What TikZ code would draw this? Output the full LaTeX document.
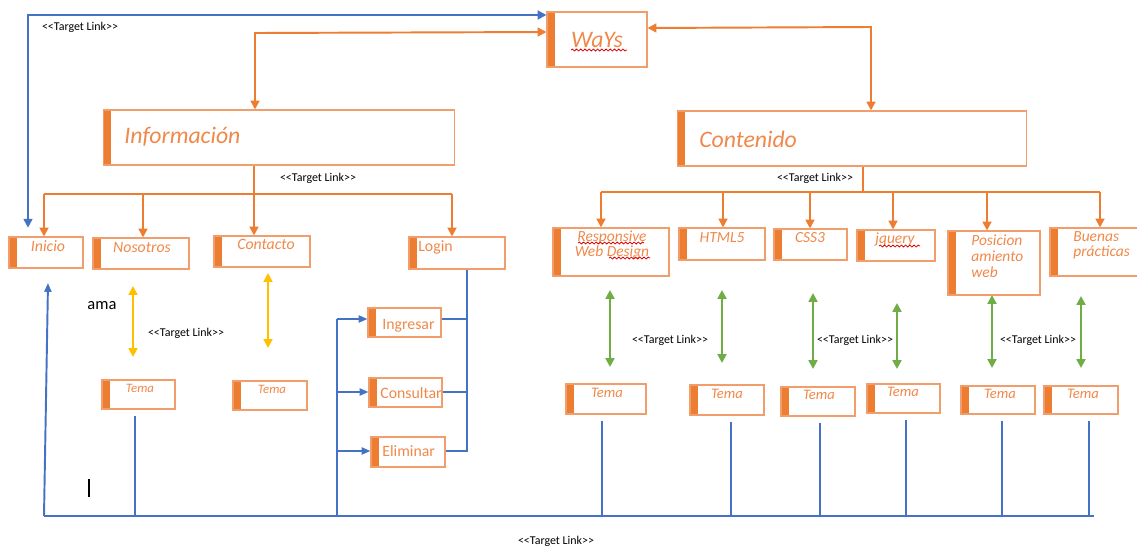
\documentclass[tikz,border=0pt]{standalone}
\usepackage{fontspec}
\setmainfont{Carlito}
\usetikzlibrary{arrows.meta, decorations.pathmorphing}

\definecolor{barorange}{RGB}{237,125,49}
\definecolor{boxline}{RGB}{242,158,108}
\definecolor{wordorange}{RGB}{240,136,74}
\definecolor{linkblue}{RGB}{68,114,196}
\definecolor{linkgreen}{RGB}{112,173,71}
\definecolor{linkyellow}{RGB}{255,192,0}

\newcommand{\targetlink}{<\kern0pt<Target Link>\kern0pt>}

\tikzset{
  box/.style 2 args={draw=boxline, line width=0.6pt, minimum width=#1,
    minimum height=#2, inner sep=0pt,
    path picture={\fill[barorange] (path picture bounding box.north west)
      rectangle ([xshift=0.16cm]path picture bounding box.south west);}},
  title/.style={text=wordorange, font=\fontsize{13.5}{16}\selectfont\itshape, inner sep=0pt},
  item/.style={text=wordorange, font=\fontsize{9}{9}\selectfont\itshape, inner sep=0pt},
  subitem/.style={text=wordorange, font=\fontsize{8.8}{8.6}\selectfont\itshape, inner sep=0pt},
  action/.style={text=wordorange, font=\fontsize{9}{10}\selectfont, inner sep=0pt, anchor=west},
  temasmall/.style={text=wordorange, font=\fontsize{7.3}{8}\selectfont\itshape, inner sep=0pt},
  temabig/.style={text=wordorange, font=\fontsize{8.3}{9}\selectfont\itshape, inner sep=0pt},
  tlink/.style={font=\fontsize{6.8}{8}\selectfont, inner sep=0pt},
  oline/.style={barorange, line width=1.1pt},
  oarrow/.style={oline, -{Triangle[length=5pt,width=5pt]}},
  oboth/.style={oline, {Triangle[length=5pt,width=5pt]}-{Triangle[length=5pt,width=5pt]}},
  bline/.style={linkblue, line width=1.1pt},
  barrow/.style={bline, -{Triangle[length=5pt,width=4pt]}},
  bboth/.style={bline, {Triangle[length=5pt,width=5pt]}-{Triangle[length=5pt,width=5pt]}},
  gboth/.style={linkgreen, line width=1.3pt, {Triangle[length=5pt,width=5pt]}-{Triangle[length=5pt,width=5pt]}},
  yboth/.style={linkyellow, line width=1.1pt, {Triangle[length=5pt,width=5pt]}-{Triangle[length=5pt,width=5pt]}},
  squiggle/.style={red!85!black, line width=0.45pt, decorate,
    decoration={snake, amplitude=0.55pt, segment length=2.4pt}}
}

\begin{document}
\begin{tikzpicture}[x=0.02cm, y=-0.02cm]
  \useasboundingbox (0,0) rectangle (1137,548);

  % top level
  \node[box={2cm}{1.1cm}, title] (ways) at (597,39.5) {WaYs};
  \node[box={7.04cm}{1.1cm}] (info) at (279,137.5) {};
  \node[box={7cm}{1.1cm}] (cont) at (852,138.5) {};
  \node[title, anchor=west] (info-t) at (124,137) {Información};
  \node[title, anchor=west] (cont-t) at (699,139) {Contenido};

  % Informacion branch
  \node[box={1.48cm}{0.62cm}] (inicio) at (46,252.5) {};
  \node[box={1.92cm}{0.62cm}] (nosotros) at (141,253.5) {};
  \node[box={1.92cm}{0.62cm}] (contacto) at (262,251.5) {};
  \node[box={1.92cm}{0.64cm}] (login) at (457,253) {};
  \node[item] (inicio-t) at (48,246) {Inicio};
  \node[item] (nosotros-t) at (142,247) {Nosotros};
  \node[item] (contacto-t) at (266,244) {Contacto};
  \node[action] (login-t) at (418,247) {Login};

  \node[box={1.46cm}{0.58cm}] (ingresar) at (404.5,322.5) {};
  \node[box={1.46cm}{0.58cm}] (consultar) at (405.5,392.5) {};
  \node[box={1.48cm}{0.6cm}] (eliminar) at (408,452) {};
  \node[action] (ingresar-t) at (382,326) {Ingresar};
  \node[action] (consultar-t) at (380,393) {Consultar};
  \node[action] (eliminar-t) at (382,451) {Eliminar};

  \node[box={1.46cm}{0.58cm}] (temaN) at (138.5,394.5) {};
  \node[box={1.48cm}{0.58cm}] (temaC) at (270,395.5) {};
  \node[temasmall] (temaN-t) at (140,388) {Tema};
  \node[temasmall] (temaC-t) at (272,389) {Tema};

  % Contenido branch
  \node[box={2.32cm}{0.96cm}] (rwd) at (611,252) {};
  \node[box={1.72cm}{0.64cm}] (html) at (722,244) {};
  \node[box={1.46cm}{0.62cm}] (css) at (810.5,244.5) {};
  \node[box={1.56cm}{0.62cm}] (jq) at (896,245.5) {};
  \node[box={1.84cm}{1.28cm}] (pos) at (994,263) {};
  \node[box={1.8cm}{0.96cm}] (buenas) at (1095,252) {};
  \node[subitem, align=center] (rwd-t) at (612,245) {Responsive\\Web Design};
  \node[subitem] (html-t) at (722,238) {HTML5};
  \node[subitem] (css-t) at (810,238) {CSS3};
  \node[subitem] (jq-t) at (895,240) {jquery};
  \node[subitem, align=left, anchor=west, font=\fontsize{8.8}{9.1}\selectfont\itshape]
    (pos-t) at (971,256) {Posicion\\amiento\\web};
  \node[subitem, align=left, anchor=west] (buenas-t) at (1073,245.5) {Buenas\\prácticas};

  \node[box={1.6cm}{0.6cm}] (temaR1) at (606,399) {};
  \node[box={1.48cm}{0.6cm}] (temaR2) at (727,400) {};
  \node[box={1.48cm}{0.58cm}] (temaR3) at (818,401.5) {};
  \node[box={1.46cm}{0.58cm}] (temaR4) at (903.5,398.5) {};
  \node[box={1.48cm}{0.56cm}] (temaR5) at (998,400) {};
  \node[box={1.48cm}{0.56cm}] (temaR6) at (1081,400) {};
  \node[temabig] (temaR1-t) at (607,393) {Tema};
  \node[temabig] (temaR2-t) at (727,394) {Tema};
  \node[temabig] (temaR3-t) at (819,395) {Tema};
  \node[temabig] (temaR4-t) at (903,392) {Tema};
  \node[temabig] (temaR5-t) at (1000,394) {Tema};
  \node[temabig] (temaR6-t) at (1083,394) {Tema};

  % orange links
  \draw[oboth] (ways.west |- 0,32) -- (255,33) -- (255,0 |- info.north);
  \draw[oboth] (ways.east |- 0,28) -- (871,27) -- (871,0 |- cont.north);
  \draw[oline] (254,0 |- info.south) -- (254,194);
  \draw[oline] (44,194) -- (452,194);
  \foreach \x/\n in {44/inicio, 143/nosotros, 254/contacto, 452/login}
    \draw[oarrow] (\x,194) -- (\x,0 |- \n.north);
  \draw[oline] (863,0 |- cont.south) -- (863,192);
  \draw[oline] (601,192) -- (1100,192);
  \foreach \x/\n in {601/rwd, 723/html, 810/css, 893/jq, 987/pos, 1100/buenas}
    \draw[oarrow] (\x,192) -- (\x,0 |- \n.north);

  % blue links
  \draw[bboth, shorten <=5pt] (28,0 |- inicio.north) -- (28,15) -- (ways.west |- 0,15);
  \draw[bline] (44,516) -- (1094,516);
  \draw[barrow] (44,516) -- (48,283);
  \foreach \x/\n in {135/temaN, 602/temaR1, 731/temaR2, 820/temaR3, 906/temaR4, 1002/temaR5, 1089/temaR6}
    \draw[bline] (\x,0 |- \n.south) ++(0,6) -- (\x,516);
  \draw[bline] (467,0 |- login.south) -- (467,452);
  \foreach \n/\y in {ingresar/319, consultar/392, eliminar/451}
    \draw[bline] (\n.east |- 0,\y) -- (467,\y);
  \draw[bline] (337,319) -- (337,516);
  \foreach \n/\y in {ingresar/319, consultar/392, eliminar/451}
    \draw[barrow] (337,\y) -- (\n.west |- 0,\y);

  % green and yellow links
  \foreach \x/\a/\b in {610/290/367, 722/290/363, 813/293/369, 897/303/369, 992/295/368, 1081/296/368}
    \draw[gboth] (\x,\a) -- (\x,\b);
  \draw[yboth] (133,286) -- (133,357);
  \draw[yboth] (268,273) -- (268,348);

  % target link labels
  \node[tlink] (tl-top) at (80,27) {\targetlink};
  \node[tlink] (tl-info) at (318,178) {\targetlink};
  \node[tlink] (tl-cont) at (815,178) {\targetlink};
  \node[tlink] (tl-tema) at (186,333) {\targetlink};
  \node[tlink] (tl-g1) at (670,340) {\targetlink};
  \node[tlink] (tl-g2) at (855,340) {\targetlink};
  \node[tlink] (tl-g3) at (1038,340) {\targetlink};
  \node[tlink] (tl-bottom) at (556,541) {\targetlink};

  % stray text
  \node[font=\fontsize{9.4}{10}\selectfont, inner sep=0pt] (ama) at (102,306) {ama};
  \draw[line width=0.6pt] (89,479) -- (89,497);

  % spell check marks
  \draw[squiggle] (571,50) -- (627,50);
  \draw[squiggle] (578,243) -- (644,243);
  \draw[squiggle] (609,258) -- (650,258);
  \draw[squiggle] (879,246) -- (920,246);
\end{tikzpicture}
\end{document}
